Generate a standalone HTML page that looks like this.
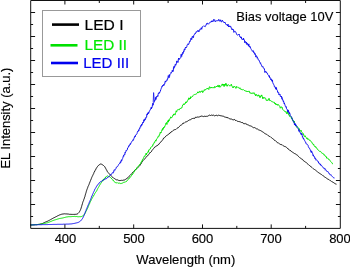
<!DOCTYPE html>
<html><head><meta charset="utf-8"><style>
html,body{margin:0;padding:0;background:#fff;}
svg{display:block;will-change:transform;}
text{font-family:"Liberation Sans",sans-serif;stroke:currentColor;stroke-width:0.15px;}
text.lg{stroke-width:0.2px;}
</style></head><body>
<svg width="350" height="267" viewBox="0 0 350 267">
<rect x="0" y="0" width="350" height="267" fill="#fff"/>
<path d="M30.0 225.0L30.8 225.0L31.6 225.0L32.4 224.9L33.2 224.9L34.0 224.8L34.8 224.8L35.6 224.7L36.4 224.7L37.2 224.6L38.0 224.5L38.8 224.4L39.6 224.3L40.4 224.1L41.2 223.9L41.9 223.7L42.7 223.4L43.4 223.0L44.1 222.7L44.8 222.3L45.6 222.0L46.3 221.7L47.0 221.4L47.8 221.1L48.5 220.7L49.2 220.4L49.9 220.0L50.6 219.6L51.3 219.2L52.0 218.8L52.7 218.4L53.4 218.0L54.1 217.7L54.9 217.3L55.6 216.9L56.3 216.6L57.0 216.2L57.7 215.8L58.4 215.5L59.2 215.1L59.9 214.8L60.6 214.6L61.4 214.3L62.2 214.1L63.0 214.0L63.8 213.9L64.6 213.8L65.4 213.9L66.2 213.9L67.0 214.0L67.8 214.0L68.6 214.1L69.4 214.3L70.2 214.3L71.0 214.3L71.8 214.4L72.6 214.4L73.4 214.4L74.2 214.4L75.0 214.3L75.8 214.3L76.6 214.2L77.3 214.0L78.0 213.5L78.6 212.9L79.1 212.3L79.5 211.7L79.9 210.9L80.3 210.3L80.6 209.5L80.9 208.8L81.1 208.0L81.4 207.2L81.6 206.5L81.8 205.7L82.0 205.0L82.3 204.1L82.5 203.4L82.7 202.6L83.0 201.7L83.3 201.1L83.6 200.4L83.8 199.5L84.1 198.9L84.4 198.1L84.6 197.2L84.9 196.6L85.1 195.7L85.3 195.0L85.5 194.2L85.7 193.6L86.0 192.7L86.2 191.9L86.4 191.2L86.7 190.3L86.9 189.7L87.2 188.8L87.5 188.2L87.8 187.3L88.0 186.6L88.3 185.9L88.7 185.3L89.0 184.5L89.3 183.6L89.6 182.9L89.9 182.1L90.2 181.4L90.5 180.6L90.8 180.0L91.1 179.1L91.4 178.4L91.7 177.6L92.0 176.9L92.3 176.3L92.7 175.5L93.0 174.9L93.3 174.2L93.7 173.5L94.0 172.5L94.4 172.0L94.8 171.0L95.1 170.5L95.5 170.0L95.9 169.1L96.3 168.3L96.7 167.7L97.2 167.0L97.6 166.4L98.1 165.7L98.7 165.3L99.3 164.8L100.0 164.2L100.7 164.0L101.5 164.2L102.2 164.6L102.9 165.0L103.5 165.5L104.1 166.0L104.6 166.5L105.0 167.2L105.5 168.1L105.9 168.8L106.2 169.4L106.6 170.0L107.0 170.8L107.4 171.7L107.8 172.3L108.3 172.7L108.8 173.4L109.4 173.8L109.9 174.4L110.5 175.1L111.1 175.7L111.6 176.4L112.2 176.9L112.8 177.4L113.4 178.0L114.0 178.3L114.7 178.7L115.4 179.2L116.2 179.8L116.9 179.8L117.7 179.9L118.4 180.3L119.2 180.6L120.0 180.4L120.8 180.5L121.6 180.3L122.4 180.4L123.2 180.2L124.0 180.0L124.8 179.9L125.5 179.4L126.2 178.9L126.8 178.7L127.4 177.9L128.0 177.7L128.6 176.9L129.1 176.2L129.7 175.7L130.3 175.2L130.8 174.6L131.4 174.0L131.9 173.5L132.5 172.5L133.0 172.2L133.6 171.6L134.1 171.3L134.7 170.2L135.2 169.9L135.8 169.2L136.4 168.7L137.0 168.4L137.6 167.8L138.2 167.4L138.8 166.5L139.3 166.1L139.8 165.6L140.3 164.9L140.7 164.1L141.2 163.6L141.6 162.6L142.0 162.3L142.5 161.4L142.9 160.7L143.5 160.2L144.0 159.7L144.5 159.2L145.1 158.4L145.6 157.7L146.2 157.3L146.7 156.5L147.3 155.8L147.8 155.6L148.4 154.8L148.9 154.4L149.4 153.5L149.9 152.5L150.5 152.5L151.0 151.8L151.5 151.5L151.9 150.6L152.4 150.0L152.9 149.4L153.5 148.6L154.0 148.1L154.6 147.2L155.2 147.1L155.8 146.3L156.5 145.9L157.1 145.7L157.8 145.3L158.4 144.4L158.9 144.4L159.5 143.3L160.0 143.0L160.5 142.4L161.1 141.6L161.6 141.0L162.1 140.7L162.6 139.9L163.1 139.2L163.6 138.1L164.2 137.8L164.7 137.6L165.3 136.8L165.9 136.0L166.5 135.6L167.1 135.2L167.8 134.9L168.4 134.4L169.1 134.0L169.7 133.1L170.3 133.0L170.9 132.1L171.5 131.7L172.1 131.6L172.8 130.7L173.4 130.3L174.2 129.9L174.9 129.5L175.6 129.5L176.3 129.1L176.9 128.5L177.6 127.9L178.3 127.7L178.9 126.9L179.5 126.5L180.0 125.9L180.6 125.2L181.2 125.1L181.8 124.6L182.5 124.1L183.2 122.9L183.9 123.4L184.6 122.7L185.3 122.1L186.0 121.8L186.7 121.7L187.4 121.3L188.1 120.8L188.8 120.3L189.6 119.9L190.3 119.8L191.0 119.3L191.8 118.8L192.5 118.5L193.3 118.4L194.0 118.2L194.8 118.4L195.5 117.2L196.3 117.4L197.0 117.1L197.8 117.0L198.6 117.1L199.4 116.9L200.2 116.5L201.0 116.3L201.8 116.0L202.6 116.3L203.4 116.6L204.2 116.2L205.0 116.4L205.8 116.4L206.6 116.3L207.4 116.3L208.2 115.9L208.9 115.4L209.7 115.1L210.5 115.5L211.3 115.1L212.1 115.2L212.9 115.5L213.7 115.1L214.5 115.8L215.3 115.6L216.1 115.3L216.9 115.3L217.7 115.8L218.5 115.2L219.3 115.4L220.1 115.6L220.9 115.8L221.7 115.9L222.5 116.1L223.3 116.2L224.0 116.5L224.8 117.1L225.5 117.2L226.3 117.2L227.0 118.1L227.8 117.4L228.5 118.2L229.3 118.6L230.0 119.0L230.8 119.0L231.6 119.1L232.3 119.6L233.1 119.6L233.9 120.0L234.6 119.4L235.4 120.5L236.2 120.4L236.9 121.1L237.7 121.3L238.5 121.5L239.2 121.5L240.0 122.0L240.7 122.0L241.5 122.5L242.3 122.6L243.0 122.7L243.7 123.7L244.5 123.7L245.2 123.3L246.0 124.4L246.7 124.1L247.5 124.7L248.2 124.9L248.9 125.3L249.7 125.8L250.4 125.9L251.2 126.0L251.9 126.7L252.6 127.1L253.4 127.7L254.1 127.5L254.8 127.7L255.6 128.2L256.3 128.8L257.0 128.8L257.7 129.1L258.5 129.8L259.2 130.0L259.9 130.4L260.6 130.6L261.3 131.0L262.0 131.5L262.7 131.9L263.4 132.3L264.0 132.9L264.7 133.4L265.4 133.8L266.1 134.2L266.7 134.4L267.4 134.8L268.1 135.6L268.7 135.9L269.4 136.4L270.1 136.6L270.7 137.2L271.4 137.6L272.0 138.0L272.6 138.6L273.3 138.9L273.9 139.7L274.5 140.4L275.2 140.5L275.8 141.2L276.4 141.5L277.1 142.3L277.7 143.0L278.4 142.8L279.1 143.5L279.7 144.2L280.4 144.4L281.2 144.7L281.9 144.6L282.6 145.3L283.4 145.8L284.1 146.3L284.8 146.5L285.5 146.7L286.1 147.2L286.7 147.5L287.4 148.1L288.0 149.0L288.6 149.3L289.2 149.6L289.9 150.6L290.5 150.5L291.2 151.5L291.8 151.6L292.5 152.2L293.2 152.7L293.9 153.0L294.6 153.6L295.2 153.8L295.9 154.2L296.5 154.7L297.2 155.0L297.8 155.6L298.4 156.4L299.1 156.9L299.7 157.5L300.3 158.2L300.9 158.4L301.5 158.9L302.2 159.1L302.8 159.8L303.4 160.7L304.0 161.0L304.6 161.4L305.2 162.0L305.8 162.2L306.4 162.8L307.0 163.3L307.6 163.7L308.3 164.6L308.9 165.2L309.5 165.5L310.1 166.1L310.8 166.4L311.4 167.1L312.0 167.6L312.6 168.2L313.3 168.7L313.9 169.1L314.5 169.5L315.2 169.9L315.8 170.4L316.5 171.0L317.1 171.5L317.7 171.9L318.4 172.6L319.0 173.0L319.7 173.4L320.3 173.8L321.0 174.3L321.6 174.6L322.3 175.1L322.9 175.7L323.6 176.1L324.2 176.6L324.9 177.2L325.6 177.5L326.2 178.1L326.9 178.4L327.6 179.0L328.2 179.3L328.9 179.5L329.6 180.3L330.3 180.6L330.9 180.8L331.6 181.5L332.3 181.9L333.0 182.2L333.7 182.7L334.4 183.2L335.0 183.7L335.8 184.0L336.5 184.2" fill="none" stroke="#000" stroke-width="0.9" stroke-linejoin="round"/>
<path d="M30.0 224.9L30.6 224.9L31.2 224.9L31.8 224.8L32.4 224.8L33.0 224.8L33.6 224.8L34.2 224.7L34.8 224.7L35.4 224.6L36.0 224.6L36.6 224.6L37.2 224.5L37.8 224.5L38.4 224.4L39.0 224.4L39.6 224.3L40.2 224.2L40.8 224.1L41.4 224.0L42.0 223.9L42.6 223.8L43.2 223.7L43.7 223.5L44.3 223.4L44.9 223.3L45.5 223.2L46.1 223.1L46.7 222.9L47.3 222.8L47.9 222.6L48.4 222.4L49.0 222.2L49.5 222.0L50.1 221.8L50.7 221.5L51.2 221.3L51.8 221.1L52.3 220.8L52.9 220.6L53.5 220.4L54.0 220.2L54.6 220.0L55.2 219.8L55.7 219.7L56.3 219.5L56.9 219.3L57.5 219.1L58.0 218.9L58.6 218.8L59.2 218.6L59.8 218.5L60.4 218.4L61.0 218.2L61.6 218.2L62.1 218.0L62.7 218.0L63.3 217.8L63.9 217.7L64.5 217.5L65.1 217.4L65.7 217.2L66.2 217.0L66.8 217.0L67.4 216.9L68.0 216.8L68.6 216.7L69.2 216.7L69.8 216.7L70.4 216.7L71.0 216.6L71.6 216.6L72.2 216.5L72.8 216.5L73.4 216.5L74.0 216.5L74.6 216.4L75.2 216.5L75.8 216.6L76.4 216.5L77.0 216.6L77.6 216.7L78.2 216.7L78.8 216.8L79.4 216.7L80.0 216.7L80.6 216.7L81.2 216.6L81.8 216.4L82.4 216.1L82.9 215.8L83.3 215.5L83.8 215.1L84.2 214.6L84.5 214.1L84.9 213.6L85.2 213.1L85.5 212.6L85.7 212.2L86.0 211.4L86.3 211.0L86.5 210.5L86.8 209.9L87.0 209.4L87.3 208.9L87.5 208.4L87.8 207.8L88.0 207.3L88.2 206.6L88.5 206.1L88.7 205.5L89.0 204.9L89.2 204.3L89.4 203.9L89.7 203.4L89.9 202.7L90.2 202.2L90.4 201.7L90.7 201.1L90.9 200.7L91.2 200.0L91.5 199.3L91.8 198.8L92.0 198.5L92.3 198.0L92.6 197.5L92.9 196.9L93.3 196.3L93.6 195.5L93.9 195.5L94.2 194.6L94.5 194.4L94.8 193.5L95.1 193.1L95.4 192.7L95.8 192.1L96.1 191.5L96.4 191.3L96.7 190.8L97.0 190.2L97.3 189.5L97.6 188.9L97.8 188.4L98.1 187.9L98.4 187.5L98.7 187.1L99.0 186.4L99.3 185.7L99.6 185.2L99.9 185.1L100.2 184.4L100.5 183.9L100.8 183.4L101.1 182.9L101.4 182.3L101.8 182.1L102.1 181.5L102.5 180.1L102.8 180.3L103.2 180.6L103.6 179.1L104.0 179.0L104.4 178.8L104.8 178.1L105.2 178.0L105.7 176.9L106.2 176.5L106.7 176.5L107.2 176.1L107.8 175.9L108.4 176.4L109.0 176.5L109.5 176.7L110.0 176.9L110.5 177.5L110.9 177.8L111.3 178.1L111.7 178.9L112.1 179.3L112.5 179.7L112.9 180.3L113.3 180.3L113.7 181.0L114.1 181.3L114.6 182.1L115.1 182.2L115.7 182.9L116.2 183.0L116.8 182.7L117.4 182.7L117.9 183.2L118.5 183.2L119.1 183.3L119.7 183.1L120.3 183.5L120.9 183.4L121.5 183.4L122.1 183.3L122.7 182.9L123.3 182.4L123.9 182.6L124.4 182.3L124.9 182.0L125.4 182.1L125.9 181.5L126.4 181.5L126.8 180.8L127.3 180.5L127.7 180.0L128.1 179.7L128.6 178.7L129.0 178.9L129.4 178.2L129.8 177.4L130.1 177.4L130.5 176.8L130.9 176.6L131.2 176.0L131.6 175.4L132.0 174.3L132.3 174.8L132.6 174.3L133.0 173.6L133.3 173.0L133.7 172.7L134.0 171.6L134.3 171.6L134.7 170.9L135.0 170.0L135.4 170.0L135.8 169.5L136.2 169.5L136.6 168.8L137.0 167.5L137.4 166.9L137.8 167.1L138.2 166.6L138.6 165.9L138.9 165.3L139.3 165.2L139.6 164.4L140.0 164.1L140.3 164.1L140.6 163.4L140.9 162.5L141.2 161.8L141.5 161.6L141.8 161.8L142.1 160.5L142.4 160.8L142.6 159.3L142.9 159.0L143.2 158.8L143.5 157.7L143.8 157.5L144.2 156.4L144.5 156.8L144.8 156.5L145.1 155.2L145.5 155.1L145.8 154.3L146.2 153.1L146.6 154.7L146.9 153.3L147.3 152.9L147.7 152.3L148.0 151.7L148.4 152.2L148.8 149.9L149.1 150.1L149.5 149.5L149.9 149.2L150.2 149.1L150.6 147.9L150.9 147.2L151.2 146.8L151.6 147.0L151.9 146.7L152.2 146.2L152.6 146.0L152.9 144.5L153.2 144.7L153.5 144.1L153.9 143.2L154.2 142.4L154.6 142.7L154.9 141.4L155.2 141.1L155.6 140.3L155.9 141.2L156.3 139.8L156.6 139.0L157.0 138.7L157.3 138.2L157.7 137.9L158.0 136.4L158.3 136.2L158.7 136.6L159.0 136.4L159.3 134.7L159.6 134.8L159.9 134.0L160.2 132.5L160.5 133.1L160.8 132.1L161.1 132.7L161.4 131.6L161.7 131.1L162.0 129.8L162.3 130.2L162.6 128.5L162.9 129.2L163.2 129.3L163.5 127.3L163.9 128.0L164.2 127.8L164.5 126.4L164.8 126.7L165.2 125.5L165.5 124.7L165.8 123.3L166.2 123.3L166.5 122.6L166.9 124.5L167.2 122.7L167.6 121.9L167.9 120.7L168.3 122.2L168.6 119.8L169.0 121.0L169.3 120.3L169.7 119.2L170.1 118.2L170.4 118.1L170.8 116.8L171.2 117.7L171.6 117.9L172.0 117.0L172.5 116.6L172.9 115.1L173.3 115.3L173.7 114.0L174.1 113.9L174.6 114.3L175.0 115.1L175.4 113.0L175.8 112.5L176.2 110.8L176.7 111.8L177.1 110.6L177.6 109.9L178.0 109.4L178.5 110.1L178.9 109.4L179.4 109.7L179.8 108.7L180.2 108.4L180.7 109.0L181.1 108.1L181.5 107.7L181.9 107.8L182.3 106.4L182.7 105.1L183.2 104.8L183.6 103.8L184.0 104.8L184.4 103.8L184.8 104.0L185.2 103.8L185.6 102.1L186.0 102.4L186.4 102.8L186.8 101.5L187.2 101.7L187.7 100.4L188.1 99.4L188.5 99.5L188.9 97.8L189.3 99.3L189.8 98.0L190.2 99.0L190.7 96.7L191.2 97.4L191.7 97.2L192.2 96.4L192.7 96.5L193.2 95.4L193.7 94.8L194.2 94.3L194.7 94.6L195.3 94.1L195.8 94.6L196.3 93.9L196.8 93.3L197.3 93.0L197.9 91.8L198.4 92.6L198.9 92.9L199.4 91.3L200.0 91.9L200.5 92.3L201.1 91.0L201.6 91.4L202.1 90.7L202.7 92.6L203.2 91.6L203.8 91.2L204.4 89.6L204.9 90.3L205.5 89.5L206.0 89.6L206.6 88.7L207.1 89.0L207.6 88.0L208.2 88.6L208.8 89.5L209.3 86.9L209.9 86.8L210.5 88.0L211.1 88.1L211.7 87.1L212.3 87.8L212.9 87.6L213.5 87.6L214.1 88.1L214.6 86.5L215.2 87.4L215.8 87.0L216.4 86.2L217.0 87.0L217.6 85.5L218.2 85.2L218.8 87.1L219.4 85.3L220.0 87.3L220.6 86.7L221.2 85.4L221.8 85.1L222.3 83.9L222.9 85.5L223.5 84.2L224.1 86.6L224.7 84.1L225.3 85.4L225.9 83.2L226.5 85.0L227.1 86.3L227.7 84.9L228.3 84.7L228.9 85.0L229.5 85.7L230.1 86.2L230.7 85.5L231.3 84.2L231.9 86.1L232.5 86.8L233.1 88.0L233.6 86.5L234.2 86.7L234.8 86.3L235.4 87.5L235.9 88.4L236.5 86.5L237.1 87.5L237.7 86.8L238.2 87.3L238.8 87.9L239.4 88.6L239.9 87.7L240.5 88.4L241.1 89.8L241.7 89.4L242.2 89.7L242.8 89.7L243.3 89.5L243.9 90.2L244.5 90.5L245.0 90.3L245.6 91.3L246.1 90.8L246.7 91.7L247.2 91.2L247.8 92.0L248.3 91.2L248.9 91.5L249.4 91.3L250.0 93.3L250.6 93.0L251.1 93.0L251.7 93.6L252.2 92.7L252.8 93.6L253.3 93.4L253.9 92.6L254.4 94.1L255.0 93.8L255.5 95.8L256.1 94.4L256.7 94.7L257.2 96.2L257.8 95.6L258.3 94.8L258.9 96.2L259.5 95.7L260.0 97.8L260.6 95.9L261.2 96.3L261.7 94.9L262.3 96.7L262.9 98.9L263.5 97.5L264.0 97.1L264.6 98.2L265.2 98.0L265.7 98.4L266.3 100.5L266.8 100.4L267.4 100.3L268.0 100.6L268.5 98.9L269.1 98.3L269.6 100.6L270.1 100.6L270.7 100.6L271.2 100.8L271.8 101.7L272.3 101.8L272.8 101.9L273.4 102.3L273.9 102.1L274.4 102.3L274.9 103.9L275.5 103.0L276.0 105.0L276.5 104.3L277.0 104.1L277.5 105.3L278.0 104.4L278.5 105.0L279.0 105.2L279.4 105.9L279.9 106.7L280.3 108.2L280.8 107.4L281.2 106.7L281.6 107.3L282.0 107.0L282.5 109.3L282.9 109.8L283.3 109.9L283.7 110.3L284.1 110.9L284.6 111.2L285.0 111.8L285.4 111.9L285.9 111.4L286.4 113.2L286.8 113.8L287.3 112.1L287.8 113.5L288.2 113.2L288.7 114.8L289.1 114.7L289.5 116.3L289.9 116.5L290.3 115.9L290.6 116.4L291.0 116.8L291.3 118.1L291.6 117.6L291.9 119.0L292.2 118.4L292.5 120.5L292.8 120.6L293.1 120.1L293.4 120.9L293.7 122.0L294.0 122.6L294.2 121.1L294.6 123.6L294.9 124.9L295.2 124.2L295.5 124.2L295.9 126.3L296.2 126.1L296.6 126.6L297.0 127.3L297.4 126.6L297.8 127.4L298.2 127.6L298.6 128.0L299.0 128.9L299.4 128.9L299.9 130.9L300.3 130.7L300.7 131.3L301.1 130.3L301.5 131.6L301.9 132.1L302.3 132.8L302.6 133.4L303.0 133.2L303.4 133.6L303.8 135.1L304.2 136.3L304.6 136.6L304.9 135.8L305.3 135.9L305.7 136.9L306.2 137.5L306.6 138.6L307.0 138.0L307.5 138.1L307.9 139.5L308.4 138.9L308.8 139.2L309.3 140.3L309.7 140.4L310.2 140.3L310.6 141.1L311.0 141.5L311.4 142.0L311.8 142.2L312.2 143.4L312.6 143.4L313.0 143.7L313.4 145.0L313.7 144.5L314.1 145.8L314.5 146.2L314.8 146.2L315.2 147.0L315.6 146.6L316.0 147.9L316.4 147.7L316.8 148.3L317.2 149.2L317.6 149.2L318.1 150.0L318.6 150.5L319.1 151.1L319.5 151.2L320.0 151.8L320.5 151.4L321.0 151.9L321.5 152.7L321.9 153.3L322.4 153.4L322.8 153.4L323.3 153.6L323.7 154.0L324.1 155.3L324.6 154.9L325.0 155.6L325.4 156.4L325.9 156.7L326.3 156.6L326.7 158.2L327.2 157.8L327.6 158.3L328.0 158.9L328.5 158.9L328.9 159.8L329.3 159.9L329.7 160.0L330.1 160.4L330.5 161.4L330.9 161.8L331.3 162.1L331.7 162.5L332.1 163.0L332.5 163.8L333.0 163.8" fill="none" stroke="#00e800" stroke-width="1" stroke-linejoin="round"/>
<path d="M30.0 224.9L30.6 224.9L31.2 224.9L31.8 224.9L32.4 224.9L33.0 224.8L33.6 224.8L34.2 224.8L34.8 224.8L35.4 224.8L36.0 224.8L36.6 224.8L37.2 224.8L37.8 224.7L38.4 224.7L39.0 224.7L39.6 224.7L40.2 224.7L40.8 224.7L41.4 224.7L42.0 224.7L42.6 224.6L43.2 224.6L43.8 224.6L44.4 224.6L45.0 224.6L45.6 224.6L46.2 224.6L46.8 224.6L47.4 224.6L48.0 224.5L48.6 224.5L49.2 224.5L49.8 224.5L50.4 224.5L51.0 224.5L51.6 224.5L52.2 224.5L52.8 224.4L53.4 224.4L54.0 224.4L54.6 224.4L55.2 224.4L55.8 224.4L56.4 224.4L57.0 224.4L57.6 224.3L58.2 224.3L58.8 224.3L59.4 224.3L60.0 224.3L60.6 224.3L61.2 224.3L61.8 224.3L62.4 224.3L63.0 224.2L63.6 224.2L64.2 224.2L64.8 224.2L65.4 224.2L66.0 224.2L66.6 224.1L67.2 224.1L67.8 224.1L68.4 224.1L69.0 224.0L69.6 224.0L70.2 224.0L70.8 223.9L71.4 223.9L72.0 223.8L72.6 223.7L73.2 223.6L73.8 223.5L74.4 223.4L75.0 223.3L75.6 223.1L76.2 223.0L76.7 222.8L77.3 222.7L77.9 222.5L78.5 222.3L79.0 222.0L79.5 221.7L80.0 221.4L80.5 221.0L80.9 220.6L81.3 220.1L81.7 219.6L82.0 219.2L82.4 218.7L82.7 218.1L83.0 217.6L83.2 217.2L83.5 216.6L83.8 216.0L84.0 215.6L84.2 214.9L84.5 214.3L84.7 213.7L84.9 213.2L85.1 212.6L85.3 212.0L85.5 211.4L85.8 210.9L86.0 210.5L86.2 209.8L86.4 209.2L86.6 208.8L86.9 208.2L87.1 207.7L87.3 207.2L87.6 206.5L87.8 206.0L88.0 205.4L88.3 204.7L88.5 204.4L88.8 203.9L89.0 203.2L89.2 202.6L89.5 202.1L89.7 201.5L89.9 200.9L90.2 200.4L90.4 199.8L90.6 199.3L90.9 198.5L91.1 198.3L91.3 197.7L91.5 196.9L91.8 196.1L92.0 196.0L92.2 195.7L92.4 194.8L92.7 194.2L92.9 193.7L93.1 193.4L93.4 192.5L93.6 192.3L93.9 191.5L94.1 191.2L94.4 190.5L94.6 189.9L94.9 189.1L95.2 188.7L95.5 188.3L95.7 188.0L96.0 187.4L96.3 186.6L96.7 186.4L97.0 186.0L97.3 185.2L97.7 184.7L98.0 184.2L98.4 184.1L98.8 183.6L99.3 182.7L99.7 182.7L100.2 182.0L100.6 181.6L101.1 181.8L101.6 181.3L102.1 180.6L102.6 180.5L103.2 180.4L103.7 179.7L104.2 179.6L104.8 179.6L105.3 178.6L105.8 178.9L106.3 178.7L106.9 178.4L107.4 177.4L107.8 177.6L108.3 176.9L108.8 176.9L109.2 176.5L109.6 176.0L110.1 175.2L110.5 174.9L110.9 174.9L111.3 173.9L111.7 173.9L112.1 173.5L112.5 172.7L112.9 173.2L113.3 172.0L113.7 172.2L114.0 170.3L114.4 169.7L114.8 170.4L115.1 169.8L115.5 169.0L115.9 168.6L116.2 167.4L116.6 167.4L116.9 166.7L117.3 166.6L117.6 166.5L118.0 165.7L118.3 165.4L118.7 164.4L119.1 164.1L119.4 163.8L119.7 163.1L120.1 163.3L120.4 161.9L120.7 162.5L121.0 160.8L121.3 161.2L121.6 159.8L121.9 160.4L122.2 159.2L122.4 158.8L122.7 158.4L123.0 157.2L123.2 156.5L123.5 155.5L123.7 156.4L124.0 155.0L124.3 154.5L124.5 154.2L124.8 154.7L125.1 152.3L125.3 152.8L125.6 151.9L125.9 151.8L126.2 150.1L126.4 150.3L126.7 150.4L127.0 150.3L127.3 149.8L127.6 148.0L127.9 147.9L128.3 147.3L128.6 146.1L128.9 145.6L129.2 146.2L129.5 145.5L129.8 144.7L130.1 145.0L130.4 143.2L130.8 143.6L131.1 142.8L131.4 142.2L131.7 142.0L132.0 141.3L132.3 140.9L132.7 140.4L133.0 140.8L133.3 139.0L133.6 139.3L133.9 138.5L134.2 137.4L134.5 137.6L134.9 136.1L135.2 136.8L135.5 135.1L135.8 134.8L136.1 134.8L136.4 134.6L136.7 134.1L137.0 133.6L137.3 132.4L137.6 131.4L137.9 131.8L138.3 131.2L138.6 129.8L138.9 130.6L139.2 129.5L139.5 128.3L139.8 128.7L140.1 127.0L140.4 126.7L140.7 127.1L141.0 125.2L141.3 125.8L141.6 124.3L141.9 125.2L142.2 123.7L142.5 123.8L142.8 122.1L143.1 122.4L143.3 122.8L143.6 121.9L143.9 119.7L144.2 121.2L144.5 120.7L144.8 119.2L145.1 120.0L145.4 117.7L145.7 117.8L146.0 118.2L146.3 117.8L146.6 117.3L146.8 115.0L147.1 113.9L147.4 115.0L147.7 113.1L148.0 113.6L148.3 112.2L148.6 113.5L148.9 112.7L149.1 112.0L149.4 111.1L149.7 110.6L150.0 109.8L150.3 109.8L150.6 109.1L150.8 108.8L151.1 107.5L151.4 108.9L151.7 107.0L152.0 107.4L152.2 106.8L152.5 104.5L152.8 103.3L153.1 105.2L153.4 103.3L153.6 103.2L153.9 102.3L154.2 102.1L154.5 100.5L154.8 100.9L155.0 100.0L155.3 99.9L155.6 97.4L155.9 99.5L156.2 98.6L156.4 96.3L156.7 96.6L157.0 96.7L157.3 96.7L157.6 95.7L157.9 96.3L158.1 94.6L158.4 93.2L158.7 93.0L159.0 93.6L159.3 92.0L159.6 92.7L159.9 92.3L160.2 91.4L160.4 91.2L160.7 89.7L161.0 89.3L161.3 88.3L161.6 87.8L161.9 86.4L162.2 86.8L162.5 85.8L162.8 85.0L163.1 85.8L163.4 85.6L163.7 84.4L164.1 85.3L164.4 84.4L164.7 84.0L165.0 82.1L165.4 80.9L165.7 82.1L166.0 81.4L166.3 81.2L166.7 80.5L167.0 80.7L167.3 78.9L167.7 79.2L168.0 77.3L168.3 75.6L168.7 76.7L169.0 77.9L169.3 74.7L169.6 76.4L169.9 74.5L170.2 74.2L170.5 74.1L170.8 73.7L171.1 72.1L171.4 72.6L171.7 72.3L172.0 72.1L172.3 70.2L172.6 71.7L172.9 71.4L173.2 71.4L173.5 67.6L173.8 68.4L174.1 66.2L174.4 67.5L174.7 67.2L175.0 65.2L175.3 64.3L175.6 65.3L175.9 65.2L176.2 63.4L176.5 63.4L176.8 60.9L177.1 62.0L177.4 62.2L177.7 61.7L178.0 62.4L178.3 59.5L178.6 58.1L179.0 59.8L179.3 58.4L179.6 58.7L179.9 58.5L180.2 57.9L180.5 58.1L180.8 57.5L181.1 54.4L181.4 55.2L181.7 56.5L182.0 53.9L182.2 54.6L182.5 53.2L182.8 52.3L183.1 53.5L183.4 52.5L183.7 50.9L184.0 51.4L184.3 49.0L184.6 48.9L184.9 49.8L185.2 48.5L185.5 47.1L185.8 47.9L186.2 47.2L186.5 47.5L186.8 46.8L187.1 45.2L187.4 44.5L187.7 44.3L188.1 43.7L188.4 44.7L188.7 44.3L189.0 43.6L189.4 42.2L189.7 41.2L190.0 41.7L190.4 40.1L190.7 40.1L191.0 38.0L191.4 38.5L191.7 39.6L192.1 37.0L192.4 36.2L192.8 36.8L193.1 37.9L193.5 37.2L193.8 35.2L194.2 34.6L194.6 34.5L195.0 33.3L195.4 33.7L195.8 33.0L196.2 31.6L196.7 31.9L197.1 31.8L197.6 30.8L198.0 30.2L198.5 31.6L198.9 32.0L199.4 29.8L199.8 29.3L200.3 29.7L200.8 28.7L201.2 27.8L201.7 29.3L202.2 26.8L202.6 26.7L203.1 26.4L203.6 25.9L204.1 26.1L204.6 26.4L205.1 26.8L205.6 25.8L206.1 25.0L206.6 23.5L207.1 24.2L207.6 23.2L208.1 23.6L208.6 24.2L209.2 23.2L209.7 22.6L210.2 21.8L210.7 22.2L211.3 22.0L211.8 20.8L212.3 20.9L212.9 21.9L213.5 19.5L214.0 20.4L214.6 19.6L215.2 21.8L215.8 20.9L216.4 20.8L217.0 20.8L217.6 20.7L218.2 20.8L218.8 19.3L219.4 20.9L220.0 21.3L220.6 19.8L221.1 21.8L221.7 21.9L222.3 20.2L222.8 21.4L223.3 21.8L223.9 21.9L224.4 23.0L224.8 22.0L225.3 23.2L225.8 24.0L226.2 24.8L226.7 24.6L227.1 24.8L227.6 26.0L228.0 24.1L228.5 27.0L228.9 26.3L229.4 25.9L229.9 27.0L230.3 26.2L230.8 26.4L231.2 28.3L231.7 28.3L232.1 30.0L232.6 29.0L233.0 29.0L233.5 29.7L233.9 32.4L234.3 31.4L234.8 31.3L235.2 31.3L235.6 31.7L236.1 32.9L236.5 33.8L236.9 34.8L237.4 35.2L237.8 34.9L238.2 34.5L238.7 34.8L239.1 34.0L239.5 35.5L240.0 37.1L240.4 36.9L240.8 37.9L241.3 36.9L241.7 39.2L242.2 39.1L242.6 39.3L243.1 40.0L243.5 38.1L244.0 40.0L244.4 40.1L244.8 42.8L245.3 41.5L245.7 41.7L246.1 43.3L246.5 42.1L246.9 44.6L247.3 43.3L247.7 44.3L248.0 44.0L248.4 46.0L248.8 43.9L249.2 46.8L249.5 46.0L249.9 47.2L250.2 46.7L250.6 48.3L251.0 48.8L251.3 49.6L251.7 49.9L252.1 50.6L252.4 51.4L252.8 50.7L253.1 50.5L253.5 50.9L253.9 53.0L254.2 52.6L254.6 54.3L254.9 54.0L255.2 53.6L255.6 55.7L255.9 57.1L256.2 55.8L256.5 55.7L256.8 56.3L257.2 58.2L257.5 57.5L257.8 58.2L258.1 59.6L258.4 59.6L258.7 60.2L259.0 60.1L259.3 60.6L259.6 61.8L259.9 62.3L260.2 63.2L260.5 62.8L260.8 64.0L261.1 64.7L261.4 64.8L261.7 65.8L262.0 66.7L262.3 66.5L262.6 66.9L262.9 66.5L263.3 68.1L263.6 68.3L263.9 68.6L264.3 68.6L264.6 70.3L264.9 72.5L265.3 71.2L265.6 71.4L266.0 72.2L266.3 71.8L266.7 72.9L267.0 72.7L267.4 73.2L267.7 74.5L268.1 74.9L268.4 75.2L268.7 75.1L269.0 76.5L269.4 75.8L269.7 77.9L270.0 77.5L270.3 78.3L270.6 79.5L270.9 79.8L271.2 78.8L271.5 80.2L271.8 81.2L272.1 80.5L272.4 79.9L272.7 82.4L273.0 83.0L273.2 83.9L273.5 84.1L273.8 84.7L274.1 85.3L274.4 86.8L274.7 86.6L275.0 87.2L275.3 86.9L275.5 88.7L275.8 88.1L276.1 89.4L276.4 87.5L276.8 90.0L277.1 90.3L277.4 90.5L277.7 92.5L278.0 92.2L278.3 92.3L278.7 92.4L279.0 95.0L279.3 94.5L279.7 95.0L280.0 94.3L280.3 96.5L280.6 96.4L280.9 96.2L281.2 96.9L281.5 96.1L281.8 98.6L282.1 97.6L282.3 99.8L282.6 99.3L282.8 99.7L283.1 101.0L283.3 101.5L283.5 100.9L283.8 102.3L284.0 103.5L284.2 103.3L284.4 102.9L284.7 104.4L284.9 104.4L285.1 105.3L285.4 106.3L285.6 106.8L285.9 107.2L286.2 106.6L286.5 108.7L286.8 108.8L287.1 109.1L287.4 110.1L287.7 112.0L288.0 110.0L288.4 110.2L288.7 112.6L289.0 111.9L289.3 114.0L289.6 112.8L289.9 113.7L290.2 115.2L290.5 115.8L290.7 116.0L291.0 116.5L291.3 116.6L291.6 116.9L291.8 117.7L292.1 119.3L292.3 119.4L292.6 119.4L292.9 120.2L293.1 121.1L293.4 121.9L293.7 121.5L293.9 122.1L294.2 122.9L294.5 125.0L294.8 123.9L295.1 125.1L295.4 123.7L295.7 125.9L296.0 124.8L296.3 125.6L296.7 126.4L297.0 127.2L297.4 127.9L297.8 128.5L298.1 128.8L298.5 128.9L298.9 131.3L299.2 130.4L299.5 131.1L299.9 132.4L300.2 132.3L300.4 132.6L300.7 132.9L301.0 134.4L301.2 133.1L301.5 133.8L301.8 135.0L302.0 134.2L302.2 135.5L302.5 137.2L302.7 136.8L303.0 137.7L303.3 138.6L303.5 138.0L303.8 139.4L304.1 139.4L304.4 139.7L304.7 140.7L305.0 141.3L305.3 141.6L305.6 142.0L306.0 143.4L306.3 144.0L306.6 144.1L307.0 144.3L307.3 144.3L307.6 144.9L308.0 145.3L308.3 146.5L308.6 147.4L308.9 147.9L309.2 147.9L309.5 148.2L309.8 149.0L310.1 149.5L310.4 150.3L310.7 151.3L311.0 150.7L311.3 152.6L311.6 151.1L311.9 151.7L312.2 152.4L312.5 153.2L312.8 154.1L313.1 155.7L313.4 154.9L313.7 156.2L314.0 156.1L314.3 156.8L314.6 156.8L315.0 158.8L315.3 158.2L315.7 158.5L316.0 160.2L316.4 159.8L316.8 160.4L317.1 160.6L317.5 160.8L317.9 161.0L318.3 162.0L318.7 163.2L319.1 163.1L319.5 163.3L319.9 164.3L320.3 163.9L320.7 165.3L321.1 165.1L321.5 165.3L321.9 166.3L322.3 166.7L322.8 166.8L323.2 167.4L323.6 168.1L324.0 168.7L324.4 168.3L324.8 168.1L325.3 170.2L325.7 169.8L326.1 170.2L326.5 170.9L326.9 171.0L327.4 172.0L327.8 171.6L328.2 172.4L328.6 172.5L329.1 173.8L329.5 173.7L329.9 174.5L330.4 175.1L330.8 174.6L331.2 175.4L331.7 176.1L332.1 176.3L332.5 176.6L333.0 177.3L333.5 177.7L334.0 177.6L334.5 178.0" fill="none" stroke="#1010f0" stroke-width="1" stroke-linejoin="round"/>
<path d="M153.2 102.5L153.6 92.6L154.3 101" fill="none" stroke="#2020ee" stroke-width="0.9"/>
<path d="M30.7 228.4V0.5H340.3V228.4Z" fill="none" stroke="#111" stroke-width="1.0"/>
<path d="M64.9 228.4V224.4M64.9 0.5V4.5M133.7 228.4V224.4M133.7 0.5V4.5M202.5 228.4V224.4M202.5 0.5V4.5M271.2 228.4V224.4M271.2 0.5V4.5M99.3 228.4V225.9M99.3 0.5V3.0M168.1 228.4V225.9M168.1 0.5V3.0M236.8 228.4V225.9M236.8 0.5V3.0M305.6 228.4V225.9M305.6 0.5V3.0M30.7 12.5H35.1M340.3 12.5H335.90000000000003M30.7 36.5H35.1M340.3 36.5H335.90000000000003M30.7 60.5H35.1M340.3 60.5H335.90000000000003M30.7 84.5H35.1M340.3 84.5H335.90000000000003M30.7 108.5H35.1M340.3 108.5H335.90000000000003M30.7 132.5H35.1M340.3 132.5H335.90000000000003M30.7 156.5H35.1M340.3 156.5H335.90000000000003M30.7 180.5H35.1M340.3 180.5H335.90000000000003M30.7 204.5H35.1M340.3 204.5H335.90000000000003M30.7 24.5H33.1M340.3 24.5H337.90000000000003M30.7 48.5H33.1M340.3 48.5H337.90000000000003M30.7 72.5H33.1M340.3 72.5H337.90000000000003M30.7 96.5H33.1M340.3 96.5H337.90000000000003M30.7 120.5H33.1M340.3 120.5H337.90000000000003M30.7 144.5H33.1M340.3 144.5H337.90000000000003M30.7 168.5H33.1M340.3 168.5H337.90000000000003M30.7 192.5H33.1M340.3 192.5H337.90000000000003M30.7 216.5H33.1M340.3 216.5H337.90000000000003" fill="none" stroke="#111" stroke-width="1"/>
<rect x="42.5" y="10.5" width="98" height="66" fill="#fff" stroke="#999" stroke-width="1"/>
<path d="M52 24.6H79" stroke="#000" stroke-width="2.6"/>
<path d="M50.5 45.3H77.5" stroke="#00e000" stroke-width="2.6"/>
<path d="M51 63H78" stroke="#0000ee" stroke-width="2.6"/>
<text class="lg" x="84.5" y="30.1" font-size="15" textLength="39" lengthAdjust="spacingAndGlyphs" fill="#000" color="#000">LED I</text>
<text class="lg" x="84.5" y="49.9" font-size="15" textLength="42.5" lengthAdjust="spacingAndGlyphs" fill="#00e800" color="#00e800">LED II</text>
<text class="lg" x="83.2" y="68.3" font-size="15" textLength="46" lengthAdjust="spacingAndGlyphs" fill="#0000ee" color="#0000ee">LED III</text>
<text x="236.3" y="20.8" font-size="13" textLength="97" lengthAdjust="spacingAndGlyphs" fill="#000" color="#000">Bias voltage 10V</text>
<g font-size="13" text-anchor="middle" fill="#000" color="#000">
<text x="65.5" y="243.3">400</text>
<text x="134" y="243.3">500</text>
<text x="202.5" y="243.3">600</text>
<text x="271" y="243.3">700</text>
<text x="340" y="243.3">800</text>
</g>
<text x="136.3" y="264.2" font-size="13" textLength="99" lengthAdjust="spacingAndGlyphs" fill="#000" color="#000">Wavelength (nm)</text>
<text transform="translate(9.7 168.6) rotate(-90)" font-size="13.5" textLength="101" lengthAdjust="spacingAndGlyphs" fill="#000" color="#000">EL Intensity (a.u.)</text>
</svg>
</body></html>
